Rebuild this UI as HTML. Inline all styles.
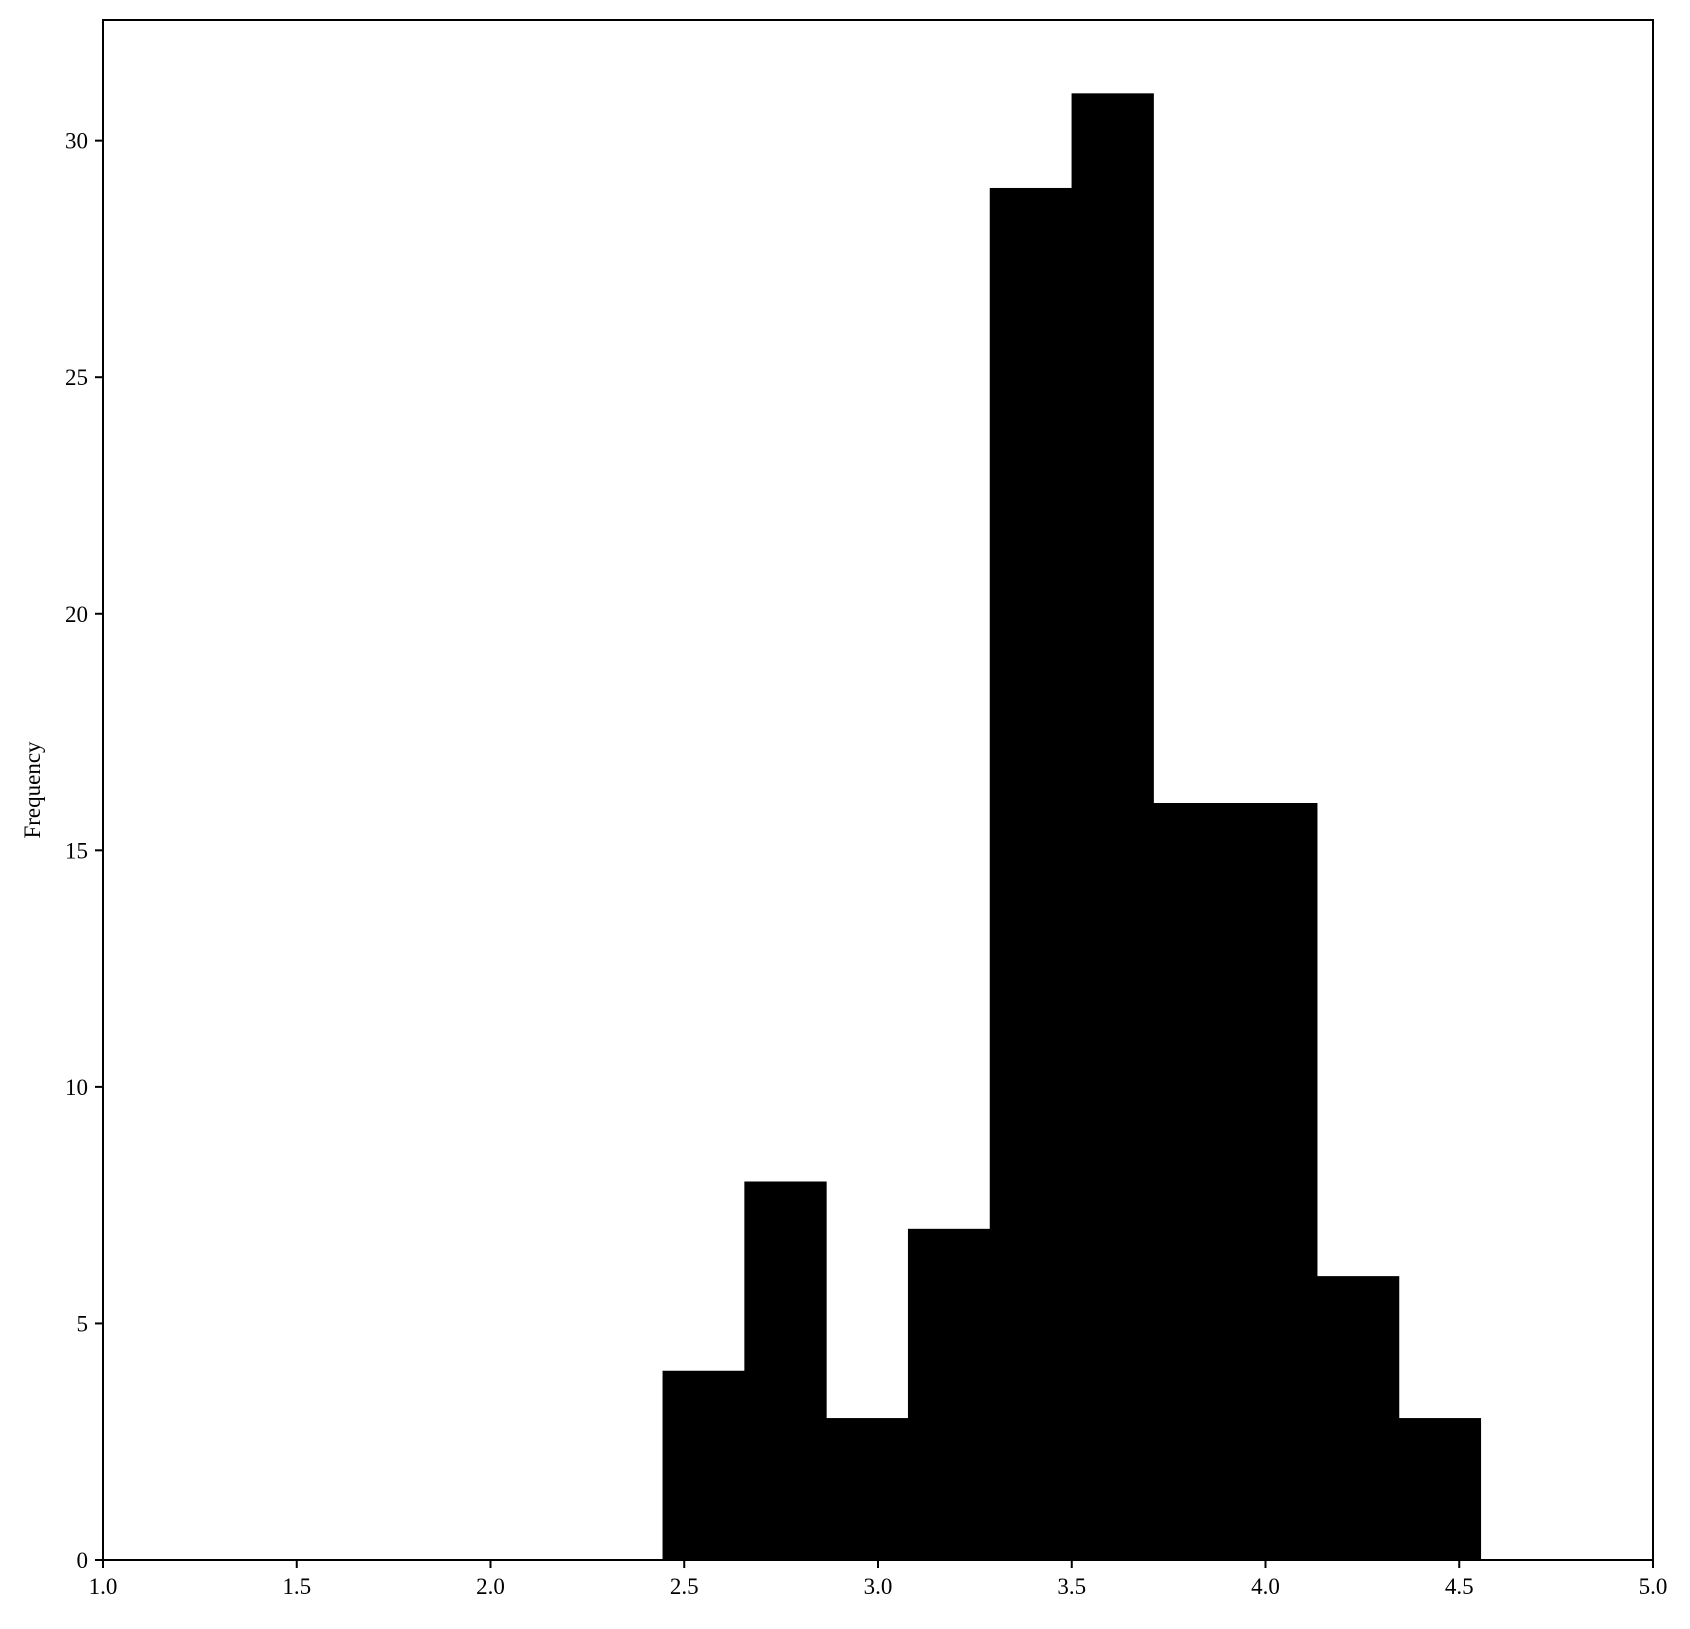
<!DOCTYPE html>
<html><head><style>
body{margin:0;background:#fff;}
svg text{font-family:"Liberation Serif",serif;font-size:23px;fill:#000;}
</style></head><body>
<svg width="1690" height="1624" id="chart">
<rect width="1690" height="1624" fill="#fff"/>
<g id="bars"></g>
<g id="axes"></g>
<text x="40" y="790" text-anchor="middle" transform="rotate(-90 40 790)">Frequency</text>
</svg>
<script>
const binStart = 2.444;
const binWidth = 0.2111;
const counts = [4, 8, 3, 7, 29, 31, 16, 16, 6, 3];
const xTicks = ["1.0","1.5","2.0","2.5","3.0","3.5","4.0","4.5","5.0"];
const yTicks = [0, 5, 10, 15, 20, 25, 30];
const L=103,R=1653,T=20,B=1560,xmin=1,xmax=5,ymax=32.55;
const sx=v=>L+(v-xmin)/(xmax-xmin)*(R-L);
const sy=v=>B-v/ymax*(B-T);
const NS="http://www.w3.org/2000/svg";
const bars=document.getElementById('bars'),axes=document.getElementById('axes');
counts.forEach((c,i)=>{
  const x0=sx(binStart+i*binWidth),x1=sx(binStart+(i+1)*binWidth);
  const r=document.createElementNS(NS,'rect');
  r.setAttribute('x',x0);r.setAttribute('width',x1-x0+0.5);
  r.setAttribute('y',sy(c));r.setAttribute('height',B-sy(c));
  r.setAttribute('fill','#000');
  
  
  bars.appendChild(r);
});
const frame=document.createElementNS(NS,'rect');
frame.setAttribute('x',L);frame.setAttribute('y',T);frame.setAttribute('width',R-L);frame.setAttribute('height',B-T);
frame.setAttribute('fill','none');frame.setAttribute('stroke','#000');frame.setAttribute('stroke-width','2');


axes.appendChild(frame);
xTicks.forEach(t=>{
  const x=sx(parseFloat(t));
  const l=document.createElementNS(NS,'line');
  l.setAttribute('x1',x);l.setAttribute('x2',x);l.setAttribute('y1',B);l.setAttribute('y2',B+8);
  l.setAttribute('stroke','#000');l.setAttribute('stroke-width','2');
  
  
  axes.appendChild(l);
  const tx=document.createElementNS(NS,'text');
  tx.setAttribute('x',x);tx.setAttribute('y',B+34);tx.setAttribute('text-anchor','middle');
  tx.textContent=t;
  
  
  axes.appendChild(tx);
});
yTicks.forEach(t=>{
  const y=sy(t);
  const l=document.createElementNS(NS,'line');
  l.setAttribute('x1',L-8);l.setAttribute('x2',L);l.setAttribute('y1',y);l.setAttribute('y2',y);
  l.setAttribute('stroke','#000');l.setAttribute('stroke-width','2');
  
  
  axes.appendChild(l);
  const tx=document.createElementNS(NS,'text');
  tx.setAttribute('x',L-15);tx.setAttribute('y',y+8);tx.setAttribute('text-anchor','end');
  tx.textContent=t;
  
  
  axes.appendChild(tx);
});
</script>
</body></html>
